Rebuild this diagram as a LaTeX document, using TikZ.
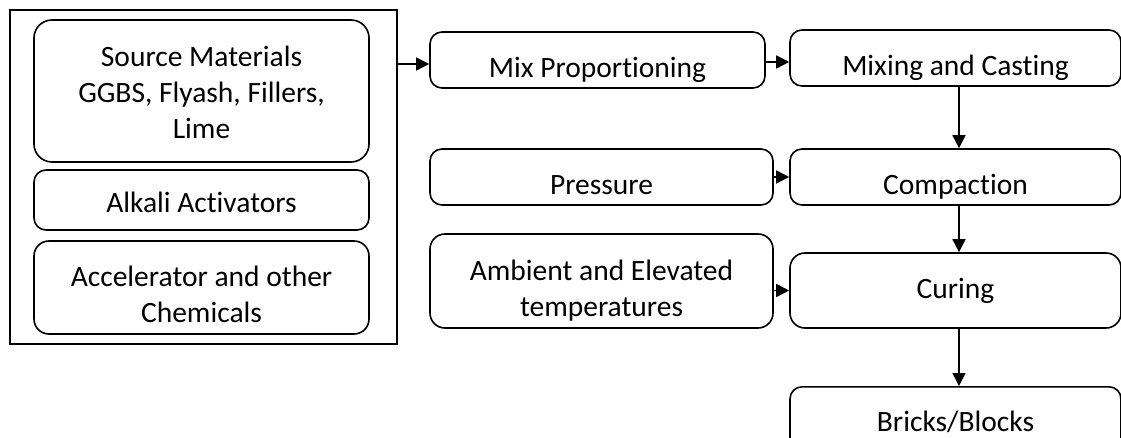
\documentclass[tikz,border=0pt]{standalone}
\usepackage{fontspec}
\setmainfont{Carlito}[Ligatures=NoCommon]
\usepackage{tikz}
\usetikzlibrary{arrows.meta}
\newcommand{\lowtxt}[2][10pt]{\raisebox{0pt}[\dimexpr\height+#1+#1\relax][\depth]{\begin{tabular}{@{}c@{}}#2\end{tabular}}}
\tikzset{
  box/.style={draw=black, line width=1.6pt, rounded corners=12pt, align=center,
    font=\fontsize{29.5}{36}\selectfont, inner sep=0pt},
  frame/.style={draw=black, line width=1.8pt},
  flow/.style={draw=black, line width=1.6pt, -{Triangle[length=13pt, width=13pt]}},
}
\begin{document}
\begin{tikzpicture}[x=1pt, y=-1pt]
  \useasboundingbox (0,0) rectangle (1121,438);
  % input group
  \draw[frame] (10,10) rectangle (397,344);
  \node[box, rounded corners=18pt, minimum width=335pt, minimum height=142pt] (src) at (201.5,91)
    {\lowtxt[4pt]{Source Materials\\GGBS, Flyash, Fillers,\\Lime}};
  \node[box, minimum width=335pt, minimum height=60pt] (alk) at (201.5,200) {\lowtxt[5pt]{Alkali Activators}};
  \node[box, rounded corners=15pt, minimum width=335pt, minimum height=93pt] (acc) at (201.5,287.5)
    {\lowtxt{Accelerator and other\\Chemicals}};
  \coordinate (grp) at (397,64);
  % process chain
  \node[box, minimum width=335pt, minimum height=54pt] (mix) at (597.5,60) {\lowtxt{Mix Proportioning}};
  \node[box, minimum width=331pt, minimum height=54pt] (cast) at (955.5,58) {\lowtxt{Mixing and Casting}};
  \node[box, minimum width=343pt, minimum height=54pt] (pres) at (601.5,177) {\lowtxt{Pressure}};
  \node[box, minimum width=331pt, minimum height=54pt] (comp) at (955.5,177) {\lowtxt{Compaction}};
  \node[box, rounded corners=15pt, minimum width=343pt, minimum height=94pt] (temp) at (601.5,281)
    {\lowtxt{Ambient and Elevated\\temperatures}};
  \node[box, rounded corners=15pt, minimum width=331pt, minimum height=75pt] (cure) at (955.5,290.5) {Curing};
  \node[box, minimum width=331pt, minimum height=70pt, anchor=north] (brick) at (955.5,386) {Bricks/Blocks};
  % connectors
  \draw[flow] (grp) -- (mix.west |- grp);
  \draw[flow] (mix.east |- 0,62) -- (cast.west |- 0,62);
  \draw[flow] (cast.south -| 959,0) -- (comp.north -| 959,0);
  \draw[flow] (pres.east) -- (comp.west);
  \draw[flow] (comp.south -| 959,0) -- (cure.north -| 959,0);
  \draw[flow] (temp.east |- cure.west) -- (cure.west);
  \draw[flow] (cure.south -| 959,0) -- (brick.north -| 959,0);
\end{tikzpicture}
\end{document}
